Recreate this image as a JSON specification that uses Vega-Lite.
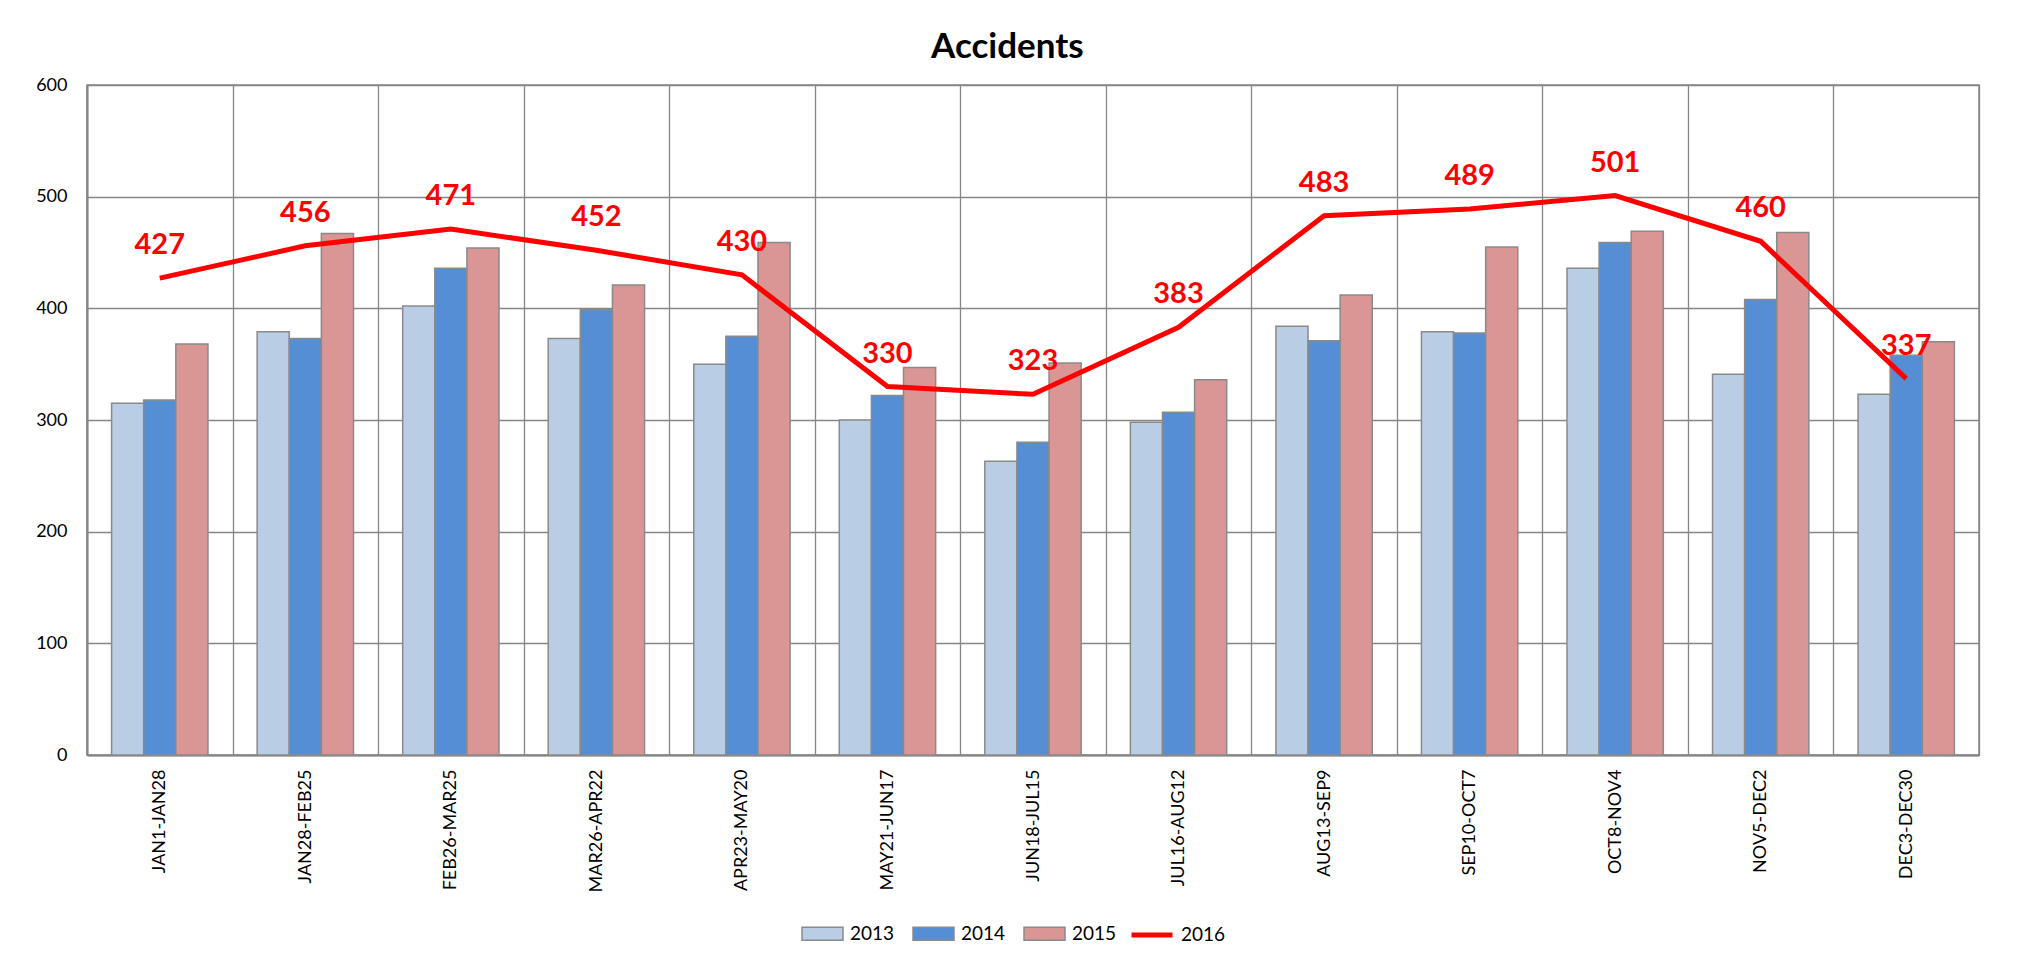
{
  "$schema": "https://vega.github.io/schema/vega-lite/v6.json",
  "width": 1892,
  "height": 670,
  "autosize": {"type": "none"},
  "padding": {"left": 87, "top": 85, "right": 40, "bottom": 210},
  "background": "white",
  "title": {"text": "Accidents", "font": "Lato", "fontSize": 35, "fontWeight": "bold", "color": "#000000", "anchor": "middle", "frame": "bounds", "offset": 11},
  "config": {
    "view": {"stroke": "#868686", "strokeWidth": 1.5},
    "axis": {"gridColor": "#868686", "gridWidth": 1.3, "gridOpacity": 1, "domainColor": "#868686", "domainWidth": 2, "ticks": false, "labelFont": "Lato", "labelFontSize": 18, "labelColor": "#000000", "title": null}
  },
  "data": {"values": [
    {"period": "JAN1-JAN28", "year": "2013", "value": 315},
    {"period": "JAN1-JAN28", "year": "2014", "value": 318},
    {"period": "JAN1-JAN28", "year": "2015", "value": 368},
    {"period": "JAN1-JAN28", "year": "2016", "value": 427},
    {"period": "JAN28-FEB25", "year": "2013", "value": 379},
    {"period": "JAN28-FEB25", "year": "2014", "value": 373},
    {"period": "JAN28-FEB25", "year": "2015", "value": 467},
    {"period": "JAN28-FEB25", "year": "2016", "value": 456},
    {"period": "FEB26-MAR25", "year": "2013", "value": 402},
    {"period": "FEB26-MAR25", "year": "2014", "value": 436},
    {"period": "FEB26-MAR25", "year": "2015", "value": 454},
    {"period": "FEB26-MAR25", "year": "2016", "value": 471},
    {"period": "MAR26-APR22", "year": "2013", "value": 373},
    {"period": "MAR26-APR22", "year": "2014", "value": 399},
    {"period": "MAR26-APR22", "year": "2015", "value": 421},
    {"period": "MAR26-APR22", "year": "2016", "value": 452},
    {"period": "APR23-MAY20", "year": "2013", "value": 350},
    {"period": "APR23-MAY20", "year": "2014", "value": 375},
    {"period": "APR23-MAY20", "year": "2015", "value": 459},
    {"period": "APR23-MAY20", "year": "2016", "value": 430},
    {"period": "MAY21-JUN17", "year": "2013", "value": 300},
    {"period": "MAY21-JUN17", "year": "2014", "value": 322},
    {"period": "MAY21-JUN17", "year": "2015", "value": 347},
    {"period": "MAY21-JUN17", "year": "2016", "value": 330},
    {"period": "JUN18-JUL15", "year": "2013", "value": 263},
    {"period": "JUN18-JUL15", "year": "2014", "value": 280},
    {"period": "JUN18-JUL15", "year": "2015", "value": 351},
    {"period": "JUN18-JUL15", "year": "2016", "value": 323},
    {"period": "JUL16-AUG12", "year": "2013", "value": 298},
    {"period": "JUL16-AUG12", "year": "2014", "value": 307},
    {"period": "JUL16-AUG12", "year": "2015", "value": 336},
    {"period": "JUL16-AUG12", "year": "2016", "value": 383},
    {"period": "AUG13-SEP9", "year": "2013", "value": 384},
    {"period": "AUG13-SEP9", "year": "2014", "value": 371},
    {"period": "AUG13-SEP9", "year": "2015", "value": 412},
    {"period": "AUG13-SEP9", "year": "2016", "value": 483},
    {"period": "SEP10-OCT7", "year": "2013", "value": 379},
    {"period": "SEP10-OCT7", "year": "2014", "value": 378},
    {"period": "SEP10-OCT7", "year": "2015", "value": 455},
    {"period": "SEP10-OCT7", "year": "2016", "value": 489},
    {"period": "OCT8-NOV4", "year": "2013", "value": 436},
    {"period": "OCT8-NOV4", "year": "2014", "value": 459},
    {"period": "OCT8-NOV4", "year": "2015", "value": 469},
    {"period": "OCT8-NOV4", "year": "2016", "value": 501},
    {"period": "NOV5-DEC2", "year": "2013", "value": 341},
    {"period": "NOV5-DEC2", "year": "2014", "value": 408},
    {"period": "NOV5-DEC2", "year": "2015", "value": 468},
    {"period": "NOV5-DEC2", "year": "2016", "value": 460},
    {"period": "DEC3-DEC30", "year": "2013", "value": 323},
    {"period": "DEC3-DEC30", "year": "2014", "value": 358},
    {"period": "DEC3-DEC30", "year": "2015", "value": 370},
    {"period": "DEC3-DEC30", "year": "2016", "value": 337}
  ]},
  "encoding": {
    "x": {"field": "period", "type": "nominal", "sort": null,
      "scale": {"paddingInner": 0, "paddingOuter": 0},
      "axis": {"labelAngle": -90, "labelPadding": 14, "grid": true, "tickBand": "extent", "labelFontSize": 18}},
    "y": {"field": "value", "type": "quantitative",
      "scale": {"domain": [0, 600], "nice": false},
      "axis": {"values": [0, 100, 200, 300, 400, 500, 600], "labelPadding": 20, "grid": true}}
  },
  "layer": [
    {
      "transform": [{"filter": "datum.year !== '2016'"}],
      "mark": {"type": "bar", "stroke": "#8a8a8a", "strokeWidth": 1.5},
      "encoding": {
        "xOffset": {"field": "year", "type": "nominal", "scale": {"paddingInner": 0, "paddingOuter": 0.766}},
        "color": {"field": "year", "type": "nominal",
          "scale": {"domain": ["2013", "2014", "2015"], "range": ["#B9CDE5", "#558ED5", "#D99694"]},
          "legend": {
            "orient": "none", "legendX": 714, "legendY": 827, "direction": "horizontal", "title": null,
            "padding": 0, "labelFont": "Lato", "labelFontSize": 19, "labelColor": "#000000", "labelOffset": 6,
            "columnPadding": 15, "symbolSize": 1681, "symbolType": "M-1,-0.32H1V0.32H-1Z",
            "symbolStrokeColor": "#8a8a8a", "symbolStrokeWidth": 1.5, "symbolOpacity": 1,
            "encode": {"symbols": {"update": {"stroke": {"value": "#8a8a8a"}, "strokeWidth": {"value": 1.5}}}}
          }}
      }
    },
    {
      "transform": [{"filter": "datum.year === '2016'"}],
      "mark": {"type": "line", "strokeWidth": 5},
      "encoding": {
        "stroke": {"field": "year", "type": "nominal",
          "scale": {"domain": ["2016"], "range": ["#FF0000"]},
          "legend": {
            "orient": "none", "legendX": 1042, "legendY": 827, "direction": "horizontal", "title": null,
            "padding": 0, "labelFont": "Lato", "labelFontSize": 19, "labelColor": "#000000", "labelOffset": 6,
            "symbolSize": 1681, "symbolType": "stroke", "symbolStrokeWidth": 5, "symbolOpacity": 1
          }}
      }
    },
    {
      "transform": [{"filter": "datum.year === '2016'"}],
      "mark": {"type": "text", "color": "#FF0000", "font": "Lato", "fontSize": 29, "fontWeight": "bold", "baseline": "alphabetic", "dy": -24},
      "encoding": {"text": {"field": "value", "type": "quantitative"}}
    }
  ]
}
